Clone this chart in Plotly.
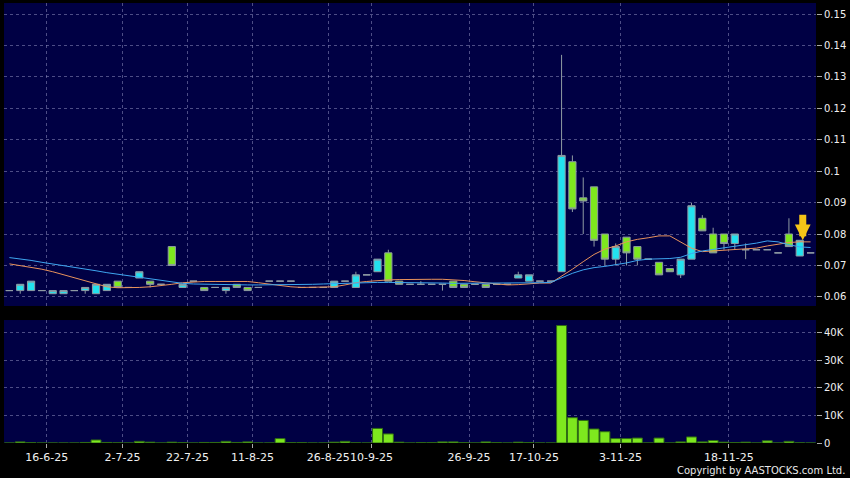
import plotly.graph_objects as go
from plotly.subplots import make_subplots

# 日足データ（左から順に 75 本）
opens = [0.062, 0.062, 0.062, 0.062, 0.061, 0.061, 0.062, 0.062, 0.061, 0.062,
         0.065, 0.063, 0.066, 0.065, 0.064, 0.076, 0.063, 0.065, 0.063, 0.063,
         0.062, 0.064, 0.063, 0.063, 0.065, 0.065, 0.065, 0.063, 0.063, 0.063,
         0.063, 0.065, 0.063, 0.067, 0.068, 0.074, 0.065, 0.064, 0.064, 0.064,
         0.064, 0.065, 0.064, 0.064, 0.064, 0.064, 0.064, 0.066, 0.065, 0.065,
         0.065, 0.068, 0.103, 0.0915, 0.095, 0.080, 0.072, 0.079, 0.076, 0.072,
         0.071, 0.069, 0.067, 0.072, 0.085, 0.080, 0.080, 0.077, 0.075, 0.075,
         0.075, 0.074, 0.080, 0.073, 0.074]
highs = [0.062, 0.064, 0.065, 0.062, 0.062, 0.062, 0.062, 0.063, 0.064, 0.064,
         0.065, 0.063, 0.068, 0.065, 0.064, 0.076, 0.064, 0.065, 0.063, 0.063,
         0.063, 0.064, 0.063, 0.063, 0.065, 0.065, 0.065, 0.063, 0.063, 0.063,
         0.065, 0.065, 0.068, 0.067, 0.072, 0.075, 0.065, 0.064, 0.065, 0.064,
         0.064, 0.065, 0.064, 0.064, 0.064, 0.064, 0.064, 0.068, 0.067, 0.065,
         0.065, 0.137, 0.105, 0.098, 0.095, 0.080, 0.077, 0.079, 0.076, 0.072,
         0.071, 0.069, 0.072, 0.090, 0.086, 0.082, 0.080, 0.080, 0.077, 0.075,
         0.075, 0.074, 0.085, 0.078, 0.074]
lows = [0.062, 0.061, 0.062, 0.062, 0.061, 0.061, 0.062, 0.061, 0.061, 0.062,
        0.063, 0.063, 0.066, 0.063, 0.064, 0.070, 0.063, 0.065, 0.062, 0.063,
        0.061, 0.063, 0.062, 0.063, 0.065, 0.065, 0.065, 0.063, 0.063, 0.063,
        0.063, 0.065, 0.063, 0.067, 0.068, 0.065, 0.064, 0.064, 0.064, 0.064,
        0.062, 0.063, 0.063, 0.064, 0.063, 0.064, 0.064, 0.066, 0.065, 0.065,
        0.065, 0.068, 0.087, 0.080, 0.076, 0.070, 0.070, 0.070, 0.070, 0.072,
        0.067, 0.068, 0.066, 0.072, 0.081, 0.074, 0.075, 0.075, 0.072, 0.075,
        0.075, 0.074, 0.076, 0.073, 0.074]
closes = [0.062, 0.064, 0.065, 0.062, 0.062, 0.062, 0.062, 0.063, 0.064, 0.064,
          0.063, 0.063, 0.068, 0.064, 0.064, 0.070, 0.064, 0.065, 0.062, 0.063,
          0.063, 0.063, 0.062, 0.063, 0.065, 0.065, 0.065, 0.063, 0.063, 0.063,
          0.065, 0.065, 0.067, 0.067, 0.072, 0.065, 0.064, 0.064, 0.064, 0.064,
          0.064, 0.063, 0.063, 0.064, 0.063, 0.064, 0.064, 0.067, 0.067, 0.065,
          0.065, 0.105, 0.088, 0.0905, 0.078, 0.072, 0.076, 0.074, 0.072, 0.072,
          0.067, 0.068, 0.072, 0.089, 0.081, 0.074, 0.077, 0.080, 0.075, 0.075,
          0.075, 0.074, 0.076, 0.078, 0.074]
volumes = [0, 400, 100, 0, 0, 0, 0, 200, 1100, 200,
           50, 0, 600, 300, 0, 300, 100, 0, 200, 200,
           600, 200, 400, 0, 0, 1600, 100, 100, 0, 0,
           300, 600, 50, 0, 5300, 3300, 300, 0, 100, 100,
           400, 400, 100, 0, 400, 100, 0, 300, 100, 0,
           0, 42700, 9200, 8200, 5100, 4100, 1600, 1600, 1800, 0,
           1800, 0, 400, 2200, 400, 900, 300, 100, 300, 0,
           800, 0, 600, 50, 0]

# 移動平均線（チャートから読み取り）
ma_short = [0.0705, 0.0700, 0.0694, 0.0688, 0.0680, 0.0670, 0.0660, 0.0650, 0.0640, 0.0632,
            0.0629, 0.0629, 0.0630, 0.0632, 0.0635, 0.0640, 0.0645, 0.0648, 0.0649, 0.0649,
            0.0649, 0.0649, 0.0649, 0.0645, 0.0640, 0.0636, 0.0632, 0.0630, 0.0630, 0.0630,
            0.0632, 0.0638, 0.0645, 0.0649, 0.0652, 0.0654, 0.0655, 0.0656, 0.0656, 0.0656,
            0.0656, 0.0655, 0.0652, 0.0648, 0.0645, 0.0640, 0.0638, 0.0639, 0.0642, 0.0644,
            0.0644, 0.0665, 0.0688, 0.0712, 0.0735, 0.0752, 0.0762, 0.0775, 0.0783, 0.0788,
            0.0794, 0.0794, 0.0775, 0.0755, 0.0744, 0.0746, 0.0749, 0.0751, 0.0752, 0.0755,
            0.0762, 0.0767, 0.0773, 0.0775, 0.0775]
ma_long = [0.0725, 0.0721, 0.0716, 0.0710, 0.0705, 0.0700, 0.0694, 0.0688, 0.0683, 0.0677,
           0.0672, 0.0667, 0.0662, 0.0657, 0.0651, 0.0646, 0.0643, 0.0641, 0.0640, 0.0639,
           0.0638, 0.0638, 0.0638, 0.0638, 0.0638, 0.0638, 0.0639, 0.0640, 0.0640, 0.0641,
           0.0641, 0.0643, 0.0644, 0.0646, 0.0646, 0.0646, 0.0646, 0.0645, 0.0645, 0.0644,
           0.0644, 0.0643, 0.0643, 0.0643, 0.0643, 0.0644, 0.0644, 0.0645, 0.0645, 0.0645,
           0.0646, 0.0660, 0.0675, 0.0686, 0.0693, 0.0697, 0.0702, 0.0708, 0.0716, 0.0720,
           0.0721, 0.0722, 0.0726, 0.0738, 0.0746, 0.0751, 0.0756, 0.0760, 0.0766, 0.0771,
           0.0778, 0.0775, 0.0766, 0.0759, 0.0757]

# 日付ラベル（ラベルの直前のバー番号）
tick_bars = [3, 10, 16, 22, 29, 33, 42, 48, 56, 66]
tick_labels = ['16-6-25', '2-7-25', '22-7-25', '11-8-25', '26-8-25',
               '10-9-25', '26-9-25', '17-10-25', '3-11-25', '18-11-25']

price_ticks = [0.06, 0.07, 0.08, 0.09, 0.10, 0.11, 0.12, 0.13, 0.14, 0.15]
price_tick_text = ['0.06', '0.07', '0.08', '0.09', '0.1', '0.11', '0.12', '0.13', '0.14', '0.15']
vol_ticks = [0, 10000, 20000, 30000, 40000]
vol_tick_text = ['0', '10K', '20K', '30K', '40K']

BG = '#000000'
PLOT_BG = '#000044'
GRID = 'rgba(140,140,190,0.55)'
CYAN = '#22e2ef'
GREEN = '#7ee81e'
EDGE = '#8f9ba3'
FONT = 'DejaVu Sans'

bars = list(range(len(closes)))

fig = make_subplots(rows=2, cols=1, shared_xaxes=True)

# ローソク足
fig.add_trace(go.Candlestick(
    x=bars, open=opens, high=highs, low=lows, close=closes,
    increasing=dict(fillcolor=CYAN, line=dict(color=EDGE, width=1)),
    decreasing=dict(fillcolor=GREEN, line=dict(color=EDGE, width=1)),
    whiskerwidth=0,
), row=1, col=1)

# 移動平均
fig.add_trace(go.Scatter(x=bars, y=ma_short, mode='lines',
                         line=dict(color='#e8925c', width=1)), row=1, col=1)
fig.add_trace(go.Scatter(x=bars, y=ma_long, mode='lines',
                         line=dict(color='#3ea6f0', width=1)), row=1, col=1)

# 出来高
fig.add_trace(go.Bar(
    x=bars, y=volumes,
    marker=dict(color=GREEN, line=dict(color='#2f6a14', width=1)),
), row=2, col=1)

# 最新バーの矢印
fig.add_annotation(
    x=bars[73], y=highs[73], xref='x', yref='y',
    text='', showarrow=True, ax=0, ay=-27, xshift=3,
    arrowhead=2, arrowsize=0.45, arrowwidth=7, arrowcolor='#f5c518',
)

fig.add_annotation(
    text='Copyright by AASTOCKS.com Ltd.', xref='paper', yref='paper',
    x=1, y=0, xanchor='right', yanchor='middle', xshift=31, yshift=-27,
    showarrow=False, font=dict(family=FONT, size=10, color='#e8e8e8'),
)

grid_pos = [b + 0.45 for b in tick_bars]

fig.update_xaxes(
    range=[-0.5, 74.5], showgrid=True, gridcolor=GRID, griddash='dot', gridwidth=1,
    zeroline=False, showline=False, tickvals=grid_pos, rangeslider_visible=False,
)
fig.update_xaxes(showticklabels=False, ticks='', row=1, col=1)
fig.update_xaxes(
    ticktext=tick_labels, ticks='outside', ticklen=4, tickcolor='#aaaaaa',
    tickangle=0, tickfont=dict(family=FONT, size=11, color='#f0f0f0'), row=2, col=1,
)

fig.update_yaxes(
    side='right', showgrid=True, gridcolor=GRID, griddash='dot', gridwidth=1,
    zeroline=False, showline=False, ticks='outside', ticklen=5, tickcolor='#aaaaaa',
    tickfont=dict(family=FONT, size=10, color='#f0f0f0'),
)
fig.update_yaxes(range=[0.0571, 0.1535], tickvals=price_ticks, ticktext=price_tick_text,
                 domain=[0.3114, 1.0], row=1, col=1)
fig.update_yaxes(range=[0, 44700], tickvals=vol_ticks, ticktext=vol_tick_text,
                 domain=[0.0, 0.2795], row=2, col=1)

fig.update_layout(
    width=850, height=478,
    margin=dict(l=4, r=34, t=3, b=35),
    paper_bgcolor=BG, plot_bgcolor=PLOT_BG,
    showlegend=False, boxgap=0.05, bargap=0.08,
    font=dict(family=FONT, color='#f0f0f0'),
)

# ページ余白とツールバーをなくす
fig.write_html('out.html', config={'displayModeBar': False},
               post_script="document.body.style.margin='0';")
